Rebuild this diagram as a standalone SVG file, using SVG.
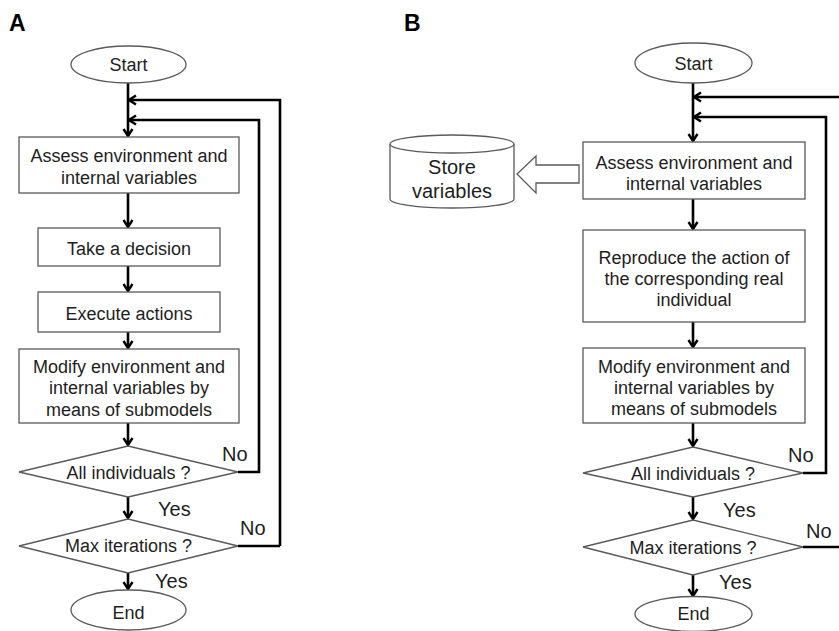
<svg xmlns="http://www.w3.org/2000/svg" width="839" height="631" viewBox="0 0 839 631">
<style>
.n{fill:#fff;stroke:#5a5a5a;stroke-width:1.3}
.t{font-family:"Liberation Sans",Arial,sans-serif;font-size:18px;fill:#1e1e1e;text-anchor:middle}
.l{font-family:"Liberation Sans",Arial,sans-serif;font-size:20px;fill:#1e1e1e}
.p{font-family:"Liberation Sans",Arial,sans-serif;font-size:23px;font-weight:bold;fill:#000}
.c{fill:none;stroke:#000;stroke-width:2.6}
</style>
<defs>
<marker id="ah" markerUnits="userSpaceOnUse" markerWidth="12" markerHeight="12" viewBox="0 0 12 12" refX="10" refY="6" orient="auto">
<path d="M3,1.5 L10,6 L3,10.5" fill="none" stroke="#000" stroke-width="2.4"/>
</marker>
</defs>
<rect width="839" height="631" fill="#fff"/>
<text class="p" x="9" y="31">A</text>
<text class="p" x="404" y="31">B</text>

<g id="connectors">
<!-- Panel A -->
<path class="c" d="M128,83 V136" marker-end="url(#ah)"/>
<path class="c" d="M280,546 H238 M280,546 V100 H129" marker-end="url(#ah)"/>
<path class="c" d="M238,472 H259 V120 H129" marker-end="url(#ah)"/>
<path class="c" d="M128,193 V227" marker-end="url(#ah)"/>
<path class="c" d="M128,266 V291" marker-end="url(#ah)"/>
<path class="c" d="M128,332 V348" marker-end="url(#ah)"/>
<path class="c" d="M128,423 V445" marker-end="url(#ah)"/>
<path class="c" d="M128,497 V518" marker-end="url(#ah)"/>
<path class="c" d="M128,573 V589" marker-end="url(#ah)"/>
<!-- Panel B -->
<path class="c" d="M693,83 V141" marker-end="url(#ah)"/>
<path class="c" d="M803,547 H845 V97 H694" marker-end="url(#ah)"/>
<path class="c" d="M803,473 H826 V117 H694" marker-end="url(#ah)"/>
<path class="c" d="M693,199 V229" marker-end="url(#ah)"/>
<path class="c" d="M693,322 V347" marker-end="url(#ah)"/>
<path class="c" d="M693,423 V446" marker-end="url(#ah)"/>
<path class="c" d="M693,497 V519" marker-end="url(#ah)"/>
<path class="c" d="M693,575 V596" marker-end="url(#ah)"/>
<polygon class="n" points="579,165 536,165 536,156 517,174 536,193 536,183 579,183"/>
</g>

<g id="a-start"><ellipse class="n" cx="128.5" cy="64.5" rx="57.5" ry="18.5"/><text class="t" x="128.5" y="71">Start</text></g>
<g id="a-assess"><rect class="n" x="19" y="137" width="220" height="56"/><text class="t" x="129" y="161.5">Assess environment and</text><text class="t" x="129" y="183.5">internal variables</text></g>
<g id="a-decision"><rect class="n" x="38" y="228" width="182" height="38"/><text class="t" x="129" y="254.5">Take a decision</text></g>
<g id="a-execute"><rect class="n" x="38" y="292" width="182" height="40"/><text class="t" x="129" y="319.5">Execute actions</text></g>
<g id="a-modify"><rect class="n" x="19" y="349" width="220" height="74"/><text class="t" x="129" y="372.5">Modify environment and</text><text class="t" x="129" y="393.5">internal variables by</text><text class="t" x="129" y="415.5">means of submodels</text></g>
<g id="a-all"><polygon class="n" points="19,472 128,446 238,472 128,497"/><text class="t" x="128.5" y="478.5">All individuals ?</text></g>
<g id="a-max"><polygon class="n" points="19,546 128,519 238,546 128,573"/><text class="t" x="128.5" y="552">Max iterations ?</text></g>
<g id="a-end"><ellipse class="n" cx="128.5" cy="610" rx="57.5" ry="20"/><text class="t" x="128.5" y="618.5">End</text></g>
<g id="a-labels"><text class="l" x="222" y="461">No</text><text class="l" x="240" y="535">No</text><text class="l" x="158" y="516">Yes</text><text class="l" x="155" y="588">Yes</text></g>

<g id="b-start"><ellipse class="n" cx="693.5" cy="63" rx="58.5" ry="20"/><text class="t" x="693.5" y="69.5">Start</text></g>
<g id="b-store"><path class="n" d="M390,144 V199 A62,9 0 0 0 514,199 V144"/><ellipse class="n" cx="452" cy="144" rx="62" ry="9"/><text class="t" style="font-size:20px" x="452" y="174">Store</text><text class="t" style="font-size:20px" x="452" y="198">variables</text></g>
<g id="b-assess"><rect class="n" x="583" y="142" width="222" height="57"/><text class="t" x="694" y="168.5">Assess environment and</text><text class="t" x="694" y="189.5">internal variables</text></g>
<g id="b-reproduce"><rect class="n" x="583" y="230" width="222" height="92"/><text class="t" x="694" y="263.5">Reproduce the action of</text><text class="t" x="694" y="284.5">the corresponding real</text><text class="t" x="694" y="305.5">individual</text></g>
<g id="b-modify"><rect class="n" x="583" y="348" width="222" height="75"/><text class="t" x="694" y="372.5">Modify environment and</text><text class="t" x="694" y="393.5">internal variables by</text><text class="t" x="694" y="414.5">means of submodels</text></g>
<g id="b-all"><polygon class="n" points="583,473 693,447 803,473 693,497"/><text class="t" x="693" y="479.5">All individuals ?</text></g>
<g id="b-max"><polygon class="n" points="583,547 693,520 803,547 693,575"/><text class="t" x="693" y="553.5">Max iterations ?</text></g>
<g id="b-end"><ellipse class="n" cx="693.5" cy="614" rx="58.5" ry="17.5"/><text class="t" x="693.5" y="619.5">End</text></g>
<g id="b-labels"><text class="l" x="788" y="462">No</text><text class="l" x="806" y="538">No</text><text class="l" x="723" y="517">Yes</text><text class="l" x="719" y="589">Yes</text></g>
</svg>
